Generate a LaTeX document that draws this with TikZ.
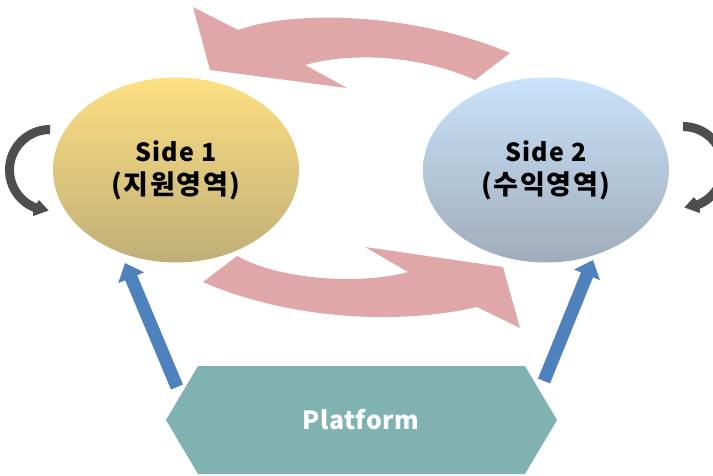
\documentclass[tikz,border=0pt]{standalone}
\usepackage{fontspec}
\newfontfamily\krlatin{Noto Sans CJK KR}[LetterSpace=5]
\newfontfamily\krwide{Noto Sans CJK KR}[LetterSpace=6]
\newfontfamily\krplat{Noto Sans CJK KR}[LetterSpace=2]
\usetikzlibrary{shapes.geometric,arrows.meta,calc}

\definecolor{flow}{RGB}{223,167,167}
\definecolor{lift}{RGB}{79,129,189}
\definecolor{base}{RGB}{127,178,177}
\definecolor{loop}{RGB}{78,78,78}
\definecolor{sunTop}{RGB}{253,224,130}
\definecolor{sunBot}{RGB}{192,174,120}
\definecolor{skyTop}{RGB}{201,227,251}
\definecolor{skyBot}{RGB}{160,172,186}

% two-line label: Latin name over Korean name
\newcommand{\sidelabel}[2]{{\krlatin #1}\\[-1pt]{\krwide\fontsize{27}{34}\selectfont #2}}

\tikzset{
  side/.style={ellipse, minimum width=246pt, minimum height=185pt, inner sep=0pt,
    align=center, font=\bfseries\fontsize{25}{34}\selectfont, text=black},
  liftarrow/.style={draw=lift, line width=13pt,
    -{Triangle[width=27pt,length=16pt]}},
  flowarrow/.style={fill=flow},
  loopshape/.style={fill=loop},
}

\begin{document}
\begin{tikzpicture}[x=1pt,y=-1pt]
\useasboundingbox (0,0) rectangle (713,476);

% exchange flows between the two sides
\fill[flowarrow] (193,7) -- (238,30) .. controls (300,8) and (420,15) .. (510,53)
  -- (475,80) .. controls (420,55) and (350,52) .. (305,65)
  -- (347,88) -- (210,70) -- cycle;
\fill[flowarrow] (237,256) .. controls (280,280) and (360,285) .. (408,272)
  -- (365,247) -- (503,267) -- (520,328)
  -- (477,307) .. controls (400,325) and (290,320) .. (203,282) -- cycle;

% self loops
\coordinate (lc) at (50,170);
\fill[loopshape] ($(lc)+(-90:45)$) arc[start angle=-90, end angle=-248, radius=45]
  -- ($(lc)+(-250:49)$) -- ($(lc)+(-268:40.5)$) -- ($(lc)+(-250:32)$)
  -- ($(lc)+(-248:36)$) arc[start angle=-248, end angle=-90, radius=36] -- cycle;
\coordinate (rc) at (683,167);
\fill[loopshape] ($(rc)+(-90:45)$) arc[start angle=-90, end angle=68, radius=45]
  -- ($(rc)+(70:49)$) -- ($(rc)+(88:40.5)$) -- ($(rc)+(70:32)$)
  -- ($(rc)+(68:36)$) arc[start angle=68, end angle=-90, radius=36] -- cycle;

% the two sides
\node[side, top color=sunTop, bottom color=sunBot] (s1) at (176,170) {\sidelabel{Side 1}{(지원영역)}};
\node[side, top color=skyTop, bottom color=skyBot] (s2) at (546,170) {\sidelabel{Side 2}{(수익영역)}};

% platform
\fill[base] (166,420) -- (198,366) -- (525,366) -- (557,420) -- (525,474) -- (198,474) -- cycle;
\node[font=\krplat\bfseries\fontsize{25}{30}\selectfont, text=white] (pf) at (361,420) {Platform};

% support arrows from the platform
\coordinate (pl) at (177,387);
\coordinate (pr) at (544,381);
\coordinate (t1) at (125,263);
\coordinate (t2) at (593,260);
\draw[liftarrow] (pl) -- (t1);
\draw[liftarrow] (pr) -- (t2);
\end{tikzpicture}
\end{document}
